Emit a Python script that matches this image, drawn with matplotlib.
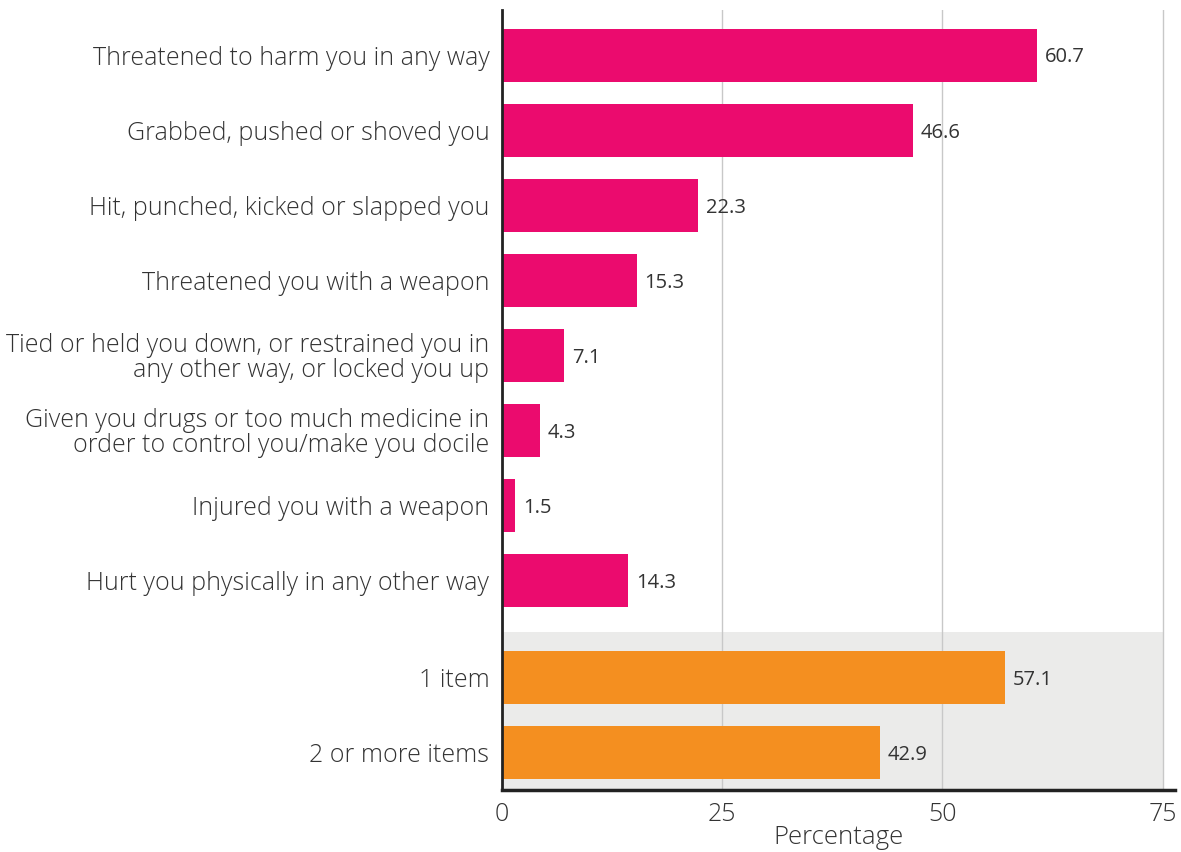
import matplotlib
matplotlib.use("Agg")

import matplotlib.pyplot as plt

# Forms of physical violence experienced (percent of respondents)
items = [
    "Threatened to harm you in any way",
    "Grabbed, pushed or shoved you",
    "Hit, punched, kicked or slapped you",
    "Threatened you with a weapon",
    "Tied or held you down, or restrained you in\nany other way, or locked you up",
    "Given you drugs or too much medicine in\norder to control you/make you docile",
    "Injured you with a weapon",
    "Hurt you physically in any other way",
]
item_values = [60.7, 46.6, 22.3, 15.3, 7.1, 4.3, 1.5, 14.3]

# Number of different items reported
counts = ["1 item", "2 or more items"]
count_values = [57.1, 42.9]

PINK = "#EB0B6E"
ORANGE = "#F48F20"
TEXT = "#333333"

plt.rcParams["font.family"] = ["Open Sans", "DejaVu Sans"]

fig = plt.figure(figsize=(11.81, 8.52), dpi=100)
ax = fig.add_axes([0.425, 0.073, 0.57, 0.915])

y_items = list(range(len(items)))
y_counts = [len(items) - 1 + 1.29 + i for i in range(len(counts))]

ax.axhspan(y_counts[0] - 0.6, y_counts[-1] + 0.5, xmin=0, xmax=75 / 76.4,
           color="#EBEBEA", zorder=0, lw=0)

ax.barh(y_items, item_values, height=0.7, color=PINK, zorder=2)
ax.barh(y_counts, count_values, height=0.7, color=ORANGE, zorder=2)

for y, v in zip(y_items + y_counts, item_values + count_values):
    ax.text(v + 0.9, y + 0.03, f"{v}", va="center", ha="left",
            fontsize=14.5, color=TEXT)

ax.set_yticks(y_items + y_counts)
ax.set_yticklabels(items + counts, fontsize=18, color=TEXT,
                   linespacing=1.0, fontweight="light")
ax.tick_params(axis="y", length=0, pad=9)
ax.tick_params(axis="x", length=0, pad=9, labelsize=18, labelcolor=TEXT)
for lbl in ax.get_xticklabels():
    lbl.set_fontweight("light")

ax.set_xlim(0, 76.4)
ax.set_xticks([0, 25, 50, 75])
ax.set_ylim(y_counts[-1] + 0.5, -0.6)

ax.grid(axis="x", color="#c8c8c8", lw=1, zorder=1)
ax.set_axisbelow(True)

for side in ["top", "right"]:
    ax.spines[side].set_visible(False)
ax.spines["left"].set_color("#222222")
ax.spines["left"].set_linewidth(2)
ax.spines["bottom"].set_color("#222222")
ax.spines["bottom"].set_linewidth(2.5)

ax.set_xlabel("Percentage", fontsize=18.5, color=TEXT, labelpad=-2,
              fontweight="light")

fig.savefig("out.png", dpi=100)
plt.close(fig)
